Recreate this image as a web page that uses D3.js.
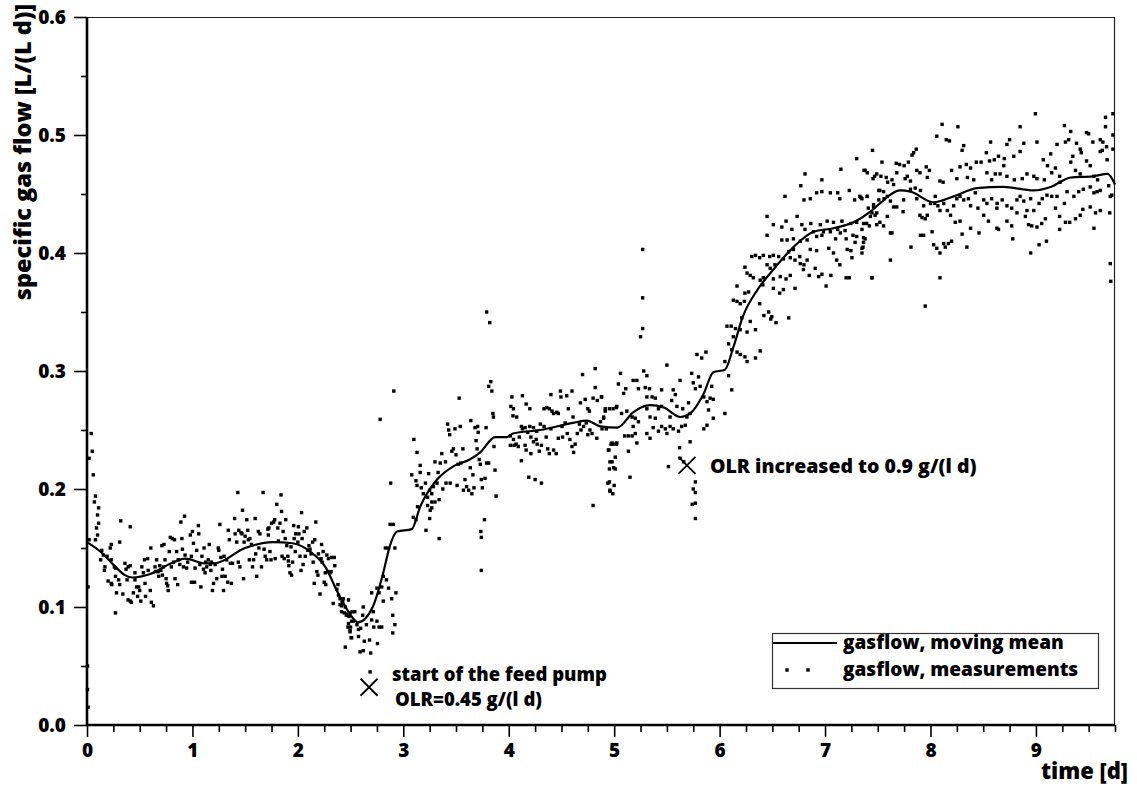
<!DOCTYPE html>
<html>
<head>
<meta charset="utf-8">
<script src="https://cdn.jsdelivr.net/npm/d3@7"></script>
<style>
  html, body { margin: 0; padding: 0; background: #fff; }
  svg { display: block; }
  text { font-family: "Open Sans", "DejaVu Sans", sans-serif; font-weight: 800; fill: #000; }
</style>
</head>
<body>
<svg id="chart" width="1137" height="787"></svg>
<script>
// Moving mean of the gas flow (time in days, specific gas flow in L/(L d))
const meanTime = [0, 0.14, 0.27, 0.36, 0.43, 0.6, 0.8, 0.93, 1.12, 1.21, 1.5, 1.76, 1.95, 2.13, 2.26, 2.38, 2.51, 2.57, 2.71, 2.81, 2.87, 2.94, 3.08, 3.16, 3.32, 3.47, 3.63, 3.73, 3.87, 3.98, 4.04, 4.30, 4.61, 4.74, 4.87, 5.03, 5.18, 5.34, 5.47, 5.63, 5.72, 5.85, 5.94, 6.05, 6.13, 6.22, 6.36, 6.51, 6.70, 6.89, 7.08, 7.27, 7.43, 7.52, 7.71, 7.81, 8.03, 8.22, 8.44, 8.69, 8.98, 9.14, 9.33, 9.54, 9.68, 9.75];
const meanFlow = [0.155, 0.146, 0.134, 0.127, 0.125, 0.128, 0.137, 0.141, 0.137, 0.137, 0.150, 0.155, 0.154, 0.146, 0.134, 0.112, 0.092, 0.087, 0.100, 0.129, 0.151, 0.164, 0.166, 0.185, 0.208, 0.219, 0.225, 0.231, 0.244, 0.244, 0.247, 0.250, 0.256, 0.258, 0.253, 0.252, 0.265, 0.271, 0.269, 0.261, 0.264, 0.281, 0.299, 0.301, 0.320, 0.346, 0.369, 0.386, 0.405, 0.418, 0.421, 0.426, 0.435, 0.442, 0.453, 0.452, 0.443, 0.448, 0.455, 0.456, 0.453, 0.456, 0.464, 0.465, 0.467, 0.458];

// Individual gas flow measurements [time, flow]
const measurements = [
[0.005,0.050],[0.005,0.030],[0.01,0.015],[0.01,0.117],[0.04,0.247],[0.05,0.232],[0.02,0.226],[0.06,0.212],[0.08,0.194],[0.07,0.189],[0.11,0.184],[0.10,0.178],[0.11,0.171],[0.09,0.167],[0.10,0.161],[0.02,0.157],[0.08,0.157],
[0.14,0.148],[0.13,0.140],[0.155,0.144],[0.17,0.134],[0.19,0.143],[0.165,0.131],[0.23,0.153],[0.22,0.150],[0.23,0.140],[0.26,0.134],[0.27,0.133],[0.20,0.122],[0.23,0.120],[0.235,0.119],[0.27,0.126],[0.28,0.112],[0.27,0.095],[0.30,0.123],[0.31,0.119],[0.32,0.173],[0.31,0.155],[0.34,0.111],[0.36,0.137],[0.37,0.132],[0.38,0.123],[0.39,0.134],[0.41,0.135],[0.41,0.168],[0.39,0.106],[0.41,0.105],[0.42,0.104],[0.44,0.112],[0.455,0.129],[0.455,0.123],[0.47,0.117],[0.48,0.109],[0.49,0.117],[0.50,0.114],[0.51,0.105],[0.52,0.134],[0.535,0.129],[0.545,0.140],[0.55,0.120],[0.555,0.109],[0.575,0.141],[0.58,0.131],[0.60,0.114],[0.605,0.150],[0.61,0.104],[0.63,0.101],[0.645,0.134],[0.65,0.130],[0.66,0.140],[0.675,0.130],[0.68,0.126],[0.69,0.135],[0.70,0.131],[0.71,0.152],[0.715,0.127],[0.725,0.134],[0.73,0.153],[0.74,0.140],[0.75,0.124],[0.755,0.120],[0.765,0.118],[0.77,0.114],[0.78,0.147],[0.79,0.159],[0.80,0.134],[0.81,0.158],[0.82,0.138],[0.83,0.157],[0.835,0.124],[0.85,0.147],[0.86,0.119],[0.865,0.140],[0.88,0.136],[0.89,0.172],[0.90,0.158],[0.905,0.149],[0.915,0.134],[0.925,0.177],[0.93,0.144],[0.945,0.133],[0.955,0.138],[0.98,0.161],[0.99,0.143],[0.99,0.121],[1.00,0.164],[1.01,0.154],[1.02,0.121],[1.025,0.133],[1.04,0.148],[1.056,0.169],[1.06,0.162],[1.07,0.136],[1.08,0.117],[1.09,0.143],[1.105,0.132],[1.11,0.150],[1.12,0.129],[1.125,0.138],[1.135,0.134],[1.15,0.140],[1.16,0.153],[1.17,0.136],[1.175,0.131],[1.18,0.138],[1.19,0.114],[1.20,0.120],[1.215,0.136],[1.23,0.124],[1.245,0.150],[1.25,0.148],[1.26,0.170],[1.27,0.142],[1.28,0.126],[1.285,0.132],[1.295,0.114],[1.30,0.143],[1.31,0.126],[1.325,0.140],[1.335,0.121],[1.34,0.165],[1.35,0.157],[1.36,0.137],[1.37,0.120],[1.38,0.137],[1.40,0.175],[1.405,0.162],[1.42,0.155],[1.43,0.197],[1.435,0.138],[1.44,0.165],[1.45,0.134],[1.46,0.163],[1.47,0.162],[1.475,0.182],[1.485,0.124],[1.49,0.155],[1.50,0.160],[1.515,0.174],[1.525,0.165],[1.53,0.157],[1.54,0.140],[1.545,0.158],[1.56,0.153],[1.57,0.134],[1.58,0.140],[1.595,0.175],[1.60,0.145],[1.61,0.126],[1.625,0.164],[1.63,0.150],[1.64,0.162],[1.655,0.134],[1.67,0.197],[1.68,0.149],[1.69,0.143],[1.705,0.140],[1.715,0.166],[1.72,0.161],[1.725,0.167],[1.735,0.147],[1.745,0.140],[1.75,0.171],[1.77,0.172],[1.78,0.174],[1.785,0.141],[1.80,0.187],[1.81,0.167],[1.815,0.156],[1.83,0.171],[1.84,0.195],[1.845,0.181],[1.85,0.143],[1.86,0.164],[1.87,0.141],[1.88,0.158],[1.885,0.174],[1.895,0.152],[1.905,0.143],[1.91,0.139],[1.915,0.135],[1.925,0.129],[1.935,0.151],[1.94,0.127],[1.95,0.138],[1.96,0.169],[1.965,0.158],[1.975,0.147],[1.98,0.162],[2.00,0.155],[2.005,0.168],[2.01,0.162],[2.02,0.143],[2.03,0.131],[2.035,0.180],[2.04,0.158],[2.05,0.136],[2.06,0.164],[2.07,0.143],[2.085,0.167],[2.095,0.148],[2.105,0.152],[2.115,0.149],[2.125,0.145],[2.14,0.155],[2.145,0.138],[2.155,0.120],[2.16,0.157],[2.17,0.172],[2.18,0.130],[2.19,0.127],[2.195,0.145],[2.21,0.111],[2.22,0.141],[2.225,0.153],[2.23,0.138],[2.24,0.147],[2.25,0.121],[2.26,0.129],[2.265,0.119],[2.275,0.144],[2.285,0.130],[2.29,0.141],[2.305,0.129],[2.315,0.130],[2.32,0.142],[2.335,0.103],[2.345,0.142],[2.35,0.135],[2.37,0.115],[2.38,0.119],[2.385,0.110],[2.40,0.102],[2.415,0.101],[2.42,0.104],[2.43,0.107],[2.44,0.095],[2.45,0.100],[2.465,0.094],[2.48,0.106],[2.485,0.092],[2.51,0.088],[2.515,0.096],[2.475,0.083],[2.495,0.080],[2.505,0.074],
[2.40,0.107],[2.425,0.105],[2.415,0.096],[2.46,0.093],[2.495,0.095],[2.54,0.096],[2.62,0.100],[2.615,0.093],[2.715,0.096],[2.70,0.112],[2.77,0.112],[2.795,0.117],[2.81,0.105],[2.86,0.116],[2.89,0.107],[2.93,0.112],[2.90,0.093],[2.92,0.085],[2.90,0.078],[2.48,0.086],[2.50,0.083],[2.525,0.088],[2.56,0.085],[2.575,0.081],[2.595,0.082],[2.495,0.079],[2.51,0.074],[2.575,0.075],[2.63,0.071],[2.68,0.072],[2.65,0.085],[2.70,0.089],[2.72,0.083],[2.75,0.088],[2.77,0.083],[2.795,0.083],[2.755,0.069],[2.45,0.066],[2.59,0.062],[2.62,0.063],[2.69,0.061],[2.685,0.045],[2.75,0.116],[2.81,0.126],[2.84,0.123],[2.83,0.150],[2.86,0.150],[2.92,0.150],[2.875,0.170],[2.905,0.170],[3.095,0.176],[3.12,0.174],[3.25,0.175],[3.215,0.165],[3.34,0.158],[3.135,0.185],[3.23,0.186],[3.255,0.182],[3.27,0.189],[3.30,0.189],[3.34,0.191],[3.27,0.184],
[3.79,0.350],[3.82,0.341],[3.83,0.291],[3.81,0.287],[3.84,0.283],[3.85,0.264],[3.855,0.261],[2.91,0.283],[2.78,0.259],[3.53,0.277],[4.82,0.302],[4.70,0.297],[4.82,0.286],[3.10,0.242],[3.13,0.231],[2.88,0.205],[3.16,0.220],[3.16,0.214],[3.08,0.212],[3.12,0.207],[3.17,0.201],[3.13,0.203],[3.21,0.205],[3.24,0.213],[3.25,0.199],[3.19,0.196],[3.23,0.193],[3.27,0.196],[3.285,0.202],[3.30,0.223],[3.32,0.205],[3.33,0.214],[3.35,0.222],[3.365,0.230],[3.375,0.200],[3.40,0.223],[3.405,0.205],[3.42,0.255],[3.43,0.250],[3.44,0.246],[3.445,0.205],[3.46,0.232],[3.475,0.234],[3.49,0.251],[3.50,0.229],[3.51,0.203],[3.52,0.221],[3.54,0.253],[3.545,0.222],[3.565,0.234],[3.57,0.199],[3.585,0.208],[3.60,0.202],[3.62,0.199],[3.635,0.218],[3.64,0.258],[3.65,0.196],[3.66,0.212],[3.67,0.201],[3.68,0.252],[3.69,0.241],[3.70,0.234],[3.705,0.253],[3.71,0.248],[3.72,0.225],[3.73,0.221],[3.74,0.208],[3.75,0.201],[3.77,0.174],[3.735,0.164],[3.74,0.159],[3.74,0.131],[3.775,0.209],[3.785,0.252],[3.79,0.222],[3.81,0.222],[3.86,0.236],[3.87,0.216],[3.88,0.194],
[4.03,0.278],[4.13,0.279],[4.02,0.270],[4.045,0.268],[4.04,0.262],[4.075,0.261],[4.12,0.253],[4.165,0.272],[4.20,0.268],[4.155,0.252],[4.20,0.253],[4.235,0.252],[4.265,0.249],[4.30,0.255],[4.335,0.268],[4.36,0.269],[4.385,0.268],[4.41,0.266],[4.425,0.264],[4.455,0.265],[4.47,0.264],[4.49,0.283],[4.495,0.278],[4.40,0.280],[4.55,0.279],[4.60,0.283],[4.565,0.268],[4.61,0.261],[4.68,0.273],[4.725,0.276],[4.75,0.268],[4.765,0.266],[4.80,0.277],[4.84,0.275],[4.88,0.278],[4.90,0.260],[4.915,0.266],[4.955,0.268],[5.02,0.269],[5.04,0.289],[4.015,0.245],[4.045,0.242],[4.015,0.237],[4.05,0.237],[4.07,0.238],[4.09,0.236],[4.10,0.244],[4.12,0.224],[4.155,0.237],[4.165,0.233],[4.18,0.248],[4.21,0.244],[4.21,0.230],[4.235,0.240],[4.26,0.242],[4.27,0.238],[4.29,0.232],[4.31,0.237],[4.335,0.253],[4.355,0.244],[4.37,0.234],[4.385,0.230],[4.40,0.251],[4.425,0.233],[4.45,0.230],[4.47,0.243],[4.505,0.253],[4.51,0.244],[4.535,0.256],[4.555,0.247],[4.58,0.242],[4.60,0.236],[4.615,0.231],[4.63,0.238],[4.65,0.247],[4.67,0.255],[4.685,0.250],[4.71,0.253],[4.735,0.256],[4.75,0.246],[4.77,0.250],[4.79,0.247],[4.835,0.243],[4.885,0.251],[4.925,0.251],[4.97,0.238],[4.99,0.238],[5.02,0.238],[4.945,0.233],[4.98,0.223],[4.955,0.217],[5.01,0.217],[4.955,0.206],[5.00,0.203],[4.96,0.198],[4.80,0.186],[4.19,0.210],[4.25,0.208],[4.31,0.205],[4.13,0.251],
[4.87,0.257],[4.90,0.261],[4.915,0.268],[4.88,0.278],[4.99,0.268],[5.025,0.270],[5.06,0.298],[5.09,0.281],[5.11,0.285],[5.07,0.264],[5.12,0.266],[5.17,0.261],[5.20,0.260],[5.23,0.257],[5.18,0.253],[5.10,0.245],[5.135,0.245],[5.17,0.245],[5.20,0.247],[5.215,0.239],[4.98,0.239],[5.025,0.239],[4.95,0.233],[5.01,0.227],[5.135,0.232],[4.96,0.223],[4.995,0.218],[4.94,0.205],[4.96,0.199],[4.987,0.196],[5.15,0.210],[5.18,0.292],[5.215,0.292],[5.23,0.285],[5.27,0.403],[5.27,0.362],[5.27,0.336],[5.25,0.329],[5.28,0.300],[5.31,0.296],[5.335,0.285],[5.295,0.286],[5.31,0.278],[5.36,0.278],[5.39,0.277],[5.31,0.268],[5.34,0.261],[5.39,0.260],[5.42,0.268],[5.45,0.270],[5.45,0.284],[5.50,0.305],[5.37,0.252],[5.31,0.247],[5.34,0.243],[5.42,0.249],[5.45,0.253],[5.485,0.251],[5.50,0.247],[5.53,0.253],[5.56,0.251],[5.53,0.261],[5.545,0.275],[5.56,0.284],[5.58,0.280],[5.595,0.270],[5.61,0.249],[5.64,0.253],[5.675,0.254],[5.65,0.268],[5.625,0.292],[5.69,0.261],[5.705,0.273],[5.72,0.264],[5.735,0.298],[5.75,0.290],[5.77,0.285],[5.80,0.295],[5.815,0.287],[5.785,0.314],[5.83,0.311],[5.87,0.316],[5.85,0.278],[5.88,0.274],[5.895,0.267],[5.91,0.277],[5.925,0.287],[5.94,0.276],[5.88,0.254],[5.94,0.260],[5.85,0.251],[5.62,0.235],[5.72,0.240],[5.515,0.219],[5.625,0.226],[5.66,0.223],[5.77,0.206],[5.75,0.200],[5.77,0.197],[5.74,0.187],[5.77,0.188],[5.77,0.175],
[6.05,0.264],[6.05,0.308],[6.115,0.284],[6.085,0.296],[6.085,0.323],[6.115,0.318],[6.165,0.316],[6.195,0.314],[6.24,0.312],[6.26,0.308],[6.34,0.311],[6.385,0.317],[6.13,0.329],[6.15,0.336],[6.11,0.338],[6.07,0.338],[6.195,0.335],[6.21,0.345],[6.26,0.333],[6.29,0.342],[6.34,0.335],[6.13,0.360],[6.165,0.359],[6.195,0.357],[6.235,0.359],[6.275,0.367],[6.24,0.366],[6.165,0.372],[6.38,0.357],[6.42,0.347],[6.465,0.350],[6.495,0.346],[6.535,0.341],[6.655,0.345],[6.485,0.344],[6.26,0.383],[6.29,0.381],[6.32,0.379],[6.24,0.388],[6.305,0.397],[6.34,0.398],[6.38,0.396],[6.415,0.398],[6.45,0.390],[6.475,0.397],[6.51,0.398],[6.56,0.397],[6.385,0.377],[6.41,0.373],[6.415,0.379],[6.51,0.378],[6.51,0.370],[6.57,0.366],[6.605,0.369],[6.63,0.378],[6.67,0.381],[6.715,0.370],[6.575,0.380],[6.48,0.387],[6.525,0.390],[6.605,0.395],[6.655,0.401],[6.70,0.403],[6.67,0.396],[6.715,0.394],[6.76,0.397],[6.765,0.391],[6.83,0.394],[6.80,0.390],[6.85,0.381],[6.795,0.386],[6.907,0.387],[6.97,0.382],[6.94,0.380],[7.01,0.372],[7.055,0.381],[7.11,0.394],[7.14,0.390],[7.20,0.379],[7.23,0.379],[7.445,0.379],[7.08,0.400],[6.92,0.402],[7.035,0.404],[7.21,0.403],[7.245,0.402],[7.255,0.396],[7.285,0.409],[7.35,0.404],[7.365,0.409],
[6.59,0.411],[6.64,0.411],[6.70,0.412],[6.765,0.410],[6.83,0.411],[6.86,0.403],[6.92,0.414],[6.97,0.415],[7.10,0.412],[7.145,0.417],[7.20,0.412],[7.265,0.415],[7.30,0.414],[7.38,0.412],[6.45,0.431],[6.45,0.415],[6.51,0.424],[6.59,0.422],[6.63,0.427],[6.685,0.420],[6.735,0.431],[6.78,0.424],[6.81,0.420],[6.865,0.425],[6.89,0.418],[6.955,0.424],[6.985,0.418],[7.02,0.427],[7.05,0.418],[7.08,0.426],[7.12,0.420],[7.16,0.427],[7.19,0.419],[7.245,0.425],[7.30,0.426],[7.35,0.420],[7.395,0.425],[7.43,0.431],[7.49,0.424],[6.62,0.448],[6.80,0.445],[6.86,0.446],[6.92,0.451],[6.97,0.452],[7.05,0.451],[7.12,0.451],[7.14,0.446],[7.23,0.453],[7.28,0.445],[7.34,0.447],[7.40,0.448],[7.46,0.441],[7.51,0.445],[6.81,0.467],[6.77,0.457],[6.97,0.462],[7.15,0.471],[7.30,0.480],[7.38,0.470],[7.47,0.465],[7.52,0.453],
[8.995,0.518],[8.11,0.509],[8.26,0.507],[8.85,0.507],[9.66,0.515],[9.73,0.518],[9.27,0.508],[9.66,0.507],[8.06,0.499],[8.15,0.496],[8.18,0.495],[9.33,0.503],[9.48,0.502],[9.50,0.501],[9.73,0.500],[7.45,0.487],[8.315,0.491],[8.30,0.487],[8.57,0.494],[8.725,0.492],[8.75,0.496],[8.885,0.493],[9.01,0.494],[9.20,0.492],[9.28,0.494],[9.31,0.496],[9.385,0.493],[9.42,0.488],[9.43,0.485],[9.54,0.494],[9.61,0.496],[9.635,0.494],[9.67,0.490],[9.63,0.487],[9.61,0.486],[9.73,0.488],[7.865,0.488],[7.84,0.485],[7.825,0.483],[7.54,0.477],[7.675,0.476],[7.707,0.475],[7.75,0.474],[7.79,0.477],[7.37,0.470],[7.40,0.468],[7.49,0.467],[7.455,0.463],[7.53,0.465],[7.58,0.464],[7.594,0.460],[7.635,0.462],[7.65,0.458],[7.68,0.468],[7.76,0.463],[7.78,0.465],[7.81,0.461],[7.87,0.470],[7.90,0.468],[7.96,0.473],[7.99,0.470],[7.97,0.464],[8.09,0.461],[8.12,0.460],[8.20,0.470],[8.28,0.473],[8.25,0.463],[8.34,0.475],[8.35,0.464],[8.38,0.472],[8.41,0.462],[8.435,0.477],[8.48,0.477],[8.53,0.485],[8.535,0.468],[8.56,0.478],[8.58,0.462],[8.605,0.479],[8.615,0.467],[8.645,0.482],[8.66,0.467],[8.70,0.480],[8.695,0.474],[8.725,0.465],[8.79,0.482],[8.795,0.462],[8.85,0.486],[8.87,0.463],[8.915,0.467],[8.98,0.465],[9.01,0.463],[9.07,0.479],[9.08,0.462],[9.11,0.474],[9.14,0.484],[9.15,0.468],[9.185,0.472],[9.225,0.465],[9.23,0.460],[9.33,0.477],[9.35,0.482],[9.375,0.470],[9.42,0.467],[9.48,0.478],[9.515,0.474],[9.55,0.465],[9.585,0.462],[9.675,0.479],[9.69,0.457],
[7.33,0.448],[7.35,0.446],[7.40,0.448],[7.41,0.438],[7.46,0.439],[7.445,0.434],[7.49,0.434],[7.51,0.453],[7.555,0.452],[7.56,0.446],[7.59,0.448],[7.62,0.444],[7.65,0.439],[7.68,0.439],[7.745,0.445],[7.74,0.435],[7.81,0.454],[7.855,0.455],[7.87,0.446],[7.905,0.453],[7.935,0.440],[7.97,0.432],[8.00,0.442],[8.045,0.448],[8.04,0.442],[8.07,0.440],[8.09,0.436],[8.125,0.442],[8.16,0.436],[8.19,0.432],[8.22,0.440],[8.25,0.446],[8.28,0.448],[8.315,0.445],[8.36,0.446],[8.38,0.440],[8.425,0.451],[8.45,0.438],[8.505,0.445],[8.535,0.442],[8.58,0.446],[8.63,0.438],[8.632,0.442],[8.68,0.445],[8.725,0.440],[8.77,0.438],[8.82,0.445],[8.85,0.448],[8.885,0.444],[8.915,0.436],[8.95,0.446],[8.98,0.436],[9.03,0.442],[9.06,0.446],[9.105,0.449],[9.15,0.448],[9.20,0.448],[9.27,0.442],[9.295,0.452],[9.36,0.448],[9.405,0.452],[9.45,0.454],[9.515,0.456],[9.55,0.451],[9.58,0.452],[9.61,0.453],[9.705,0.448],[9.72,0.449],
[7.365,0.425],[7.42,0.423],[7.475,0.432],[7.52,0.426],[7.555,0.423],[7.59,0.431],[7.635,0.417],[7.365,0.413],[7.36,0.405],[7.35,0.400],[7.62,0.394],[7.445,0.379],[7.90,0.432],[7.92,0.430],[7.95,0.429],[7.905,0.415],[7.935,0.415],[8.015,0.418],[8.03,0.407],[8.06,0.404],[8.09,0.400],[8.125,0.408],[8.14,0.405],[8.17,0.408],[8.20,0.410],[8.235,0.426],[8.28,0.427],[8.30,0.416],[8.345,0.405],[8.38,0.421],[8.46,0.417],[8.505,0.432],[8.55,0.427],[8.63,0.421],[8.645,0.420],[8.725,0.427],[8.77,0.423],[8.78,0.412],[8.82,0.434],[8.90,0.431],[8.93,0.424],[8.96,0.423],[9.01,0.422],[9.055,0.425],[9.09,0.429],[9.03,0.407],[9.10,0.410],[8.95,0.400],[9.185,0.438],[9.225,0.431],[9.225,0.420],[9.28,0.426],[9.32,0.426],[9.375,0.429],[9.42,0.432],[9.445,0.437],[9.515,0.439],[9.55,0.421],[9.565,0.434],[9.61,0.436],[9.70,0.434],[7.815,0.405],[7.62,0.417],[7.95,0.355],[8.09,0.379],[9.705,0.391],[9.71,0.376]
];

// Annotated events on the time axis
const events = [
  { time: 2.675, flow: 0.032, lines: ["start of the feed pump", "OLR=0.45 g/(l d)"] },
  { time: 5.69, flow: 0.220, lines: ["OLR increased to 0.9 g/(l d)"] }
];

const xMajorTicks = [0, 1, 2, 3, 4, 5, 6, 7, 8, 9];
const yMajorTicks = [0.0, 0.1, 0.2, 0.3, 0.4, 0.5, 0.6];
const legendLabels = ["gasflow, moving mean", "gasflow, measurements"];

const svg = d3.select("#chart");
const plotLeft = 87, plotRight = 1115, plotTop = 17, plotBottom = 725;
const fontFamily = "'Open Sans', 'DejaVu Sans', sans-serif";

const x = d3.scaleLinear().domain([0, 9.75]).range([plotLeft, plotRight]);
const y = d3.scaleLinear().domain([0, 0.6]).range([plotBottom, plotTop]);

// frame: thin top and right edges
svg.append("line").attr("x1", plotLeft).attr("x2", plotRight).attr("y1", plotTop + 0.5).attr("y2", plotTop + 0.5)
  .attr("stroke", "#222").attr("stroke-width", 1.2);
svg.append("line").attr("x1", plotRight - 0.5).attr("x2", plotRight - 0.5).attr("y1", plotTop).attr("y2", plotBottom)
  .attr("stroke", "#222").attr("stroke-width", 1.2);

// measurements as small squares
const sq = 3.4;
svg.append("g").selectAll("rect").data(measurements).join("rect")
  .attr("x", d => x(d[0]) - sq / 2)
  .attr("y", d => y(d[1]) - sq / 2)
  .attr("width", sq).attr("height", sq)
  .attr("fill", "#000");

// moving mean
const meanPoints = meanTime.map((t, i) => [t, meanFlow[i]]);
svg.append("path")
  .datum(meanPoints)
  .attr("fill", "none")
  .attr("stroke", "#000")
  .attr("stroke-width", 2.2)
  .attr("stroke-linejoin", "round")
  .attr("d", d3.line().x(d => x(d[0])).y(d => y(d[1])).curve(d3.curveMonotoneX));

// x axis
const xMinor = d3.range(0, 9.75 + 1e-9, 0.25).filter(v => Math.abs(v - Math.round(v)) > 1e-6);
const xAxisMajor = d3.axisBottom(x).tickValues(xMajorTicks).tickSize(12).tickPadding(7).tickFormat(d3.format("d"));
const xAxisMinor = d3.axisBottom(x).tickValues(xMinor).tickSize(7).tickFormat("");
const gx1 = svg.append("g").attr("transform", `translate(0,${plotBottom})`).call(xAxisMinor);
const gx2 = svg.append("g").attr("transform", `translate(0,${plotBottom})`).call(xAxisMajor);
[gx1, gx2].forEach(g => {
  g.select(".domain").remove();
  g.selectAll(".tick line").attr("stroke", "#000").attr("stroke-width", 1.6);
});
gx2.selectAll(".tick text").attr("font-size", 19).attr("font-family", fontFamily).attr("font-weight", 800).attr("fill", "#000");

// y axis
const yMinor = d3.range(0.05, 0.6, 0.1);
const yAxisMajor = d3.axisLeft(y).tickValues(yMajorTicks).tickSize(13).tickPadding(8).tickFormat(d3.format(".1f"));
const yAxisMinor = d3.axisLeft(y).tickValues(yMinor).tickSize(6).tickFormat("");
const gy1 = svg.append("g").attr("transform", `translate(${plotLeft},0)`).call(yAxisMinor);
const gy2 = svg.append("g").attr("transform", `translate(${plotLeft},0)`).call(yAxisMajor);
[gy1, gy2].forEach(g => {
  g.select(".domain").remove();
  g.selectAll(".tick line").attr("stroke", "#000").attr("stroke-width", 1.6);
});
gy2.selectAll(".tick text").attr("font-size", 19).attr("font-family", fontFamily).attr("font-weight", 800).attr("fill", "#000");

// thick axis lines
svg.append("line").attr("x1", plotLeft).attr("x2", plotLeft).attr("y1", plotTop).attr("y2", plotBottom + 1)
  .attr("stroke", "#000").attr("stroke-width", 2.6);
svg.append("line").attr("x1", plotLeft - 1).attr("x2", plotRight).attr("y1", plotBottom).attr("y2", plotBottom)
  .attr("stroke", "#000").attr("stroke-width", 2.6);

// axis titles
svg.append("text").attr("x", 1128).attr("y", 779).attr("text-anchor", "end")
  .attr("font-size", 22).text("time [d]");
svg.append("text").attr("transform", "translate(31,4) rotate(-90)").attr("text-anchor", "end")
  .attr("font-size", 23.5).text("specific gas flow [L/(L d)]");

// event markers and notes
events.forEach(ev => {
  const cx = x(ev.time), cy = y(ev.flow), s = 8.5;
  const g = svg.append("g");
  g.append("path")
    .attr("d", `M${cx - s},${cy - s}L${cx + s},${cy + s}M${cx - s},${cy + s}L${cx + s},${cy - s}`)
    .attr("stroke", "#000").attr("stroke-width", 1.8).attr("fill", "none");
  ev.lines.forEach((line, i) => {
    g.append("text")
      .attr("x", cx + 23 + (i > 0 ? 3 : 0))
      .attr("y", ev.lines.length > 1 ? cy - 6 + i * 25 : cy + 8)
      .attr("font-size", ev.lines.length > 1 ? 18.5 : 19.5)
      .text(line);
  });
});

// legend
const legend = svg.append("g");
legend.append("rect").attr("x", 772.5).attr("y", 633.5).attr("width", 326).attr("height", 55)
  .attr("fill", "#fff").attr("stroke", "#333").attr("stroke-width", 1.2);
legend.append("line").attr("x1", 773).attr("x2", 837).attr("y1", 643).attr("y2", 643)
  .attr("stroke", "#000").attr("stroke-width", 2.2);
[787, 808].forEach(px => {
  legend.append("rect").attr("x", px - sq / 2).attr("y", 670 - sq / 2).attr("width", sq).attr("height", sq).attr("fill", "#000");
});
legendLabels.forEach((lbl, i) => {
  legend.append("text").attr("x", 843).attr("y", 649 + i * 27).attr("font-size", 19).text(lbl);
});
</script>
</body>
</html>
